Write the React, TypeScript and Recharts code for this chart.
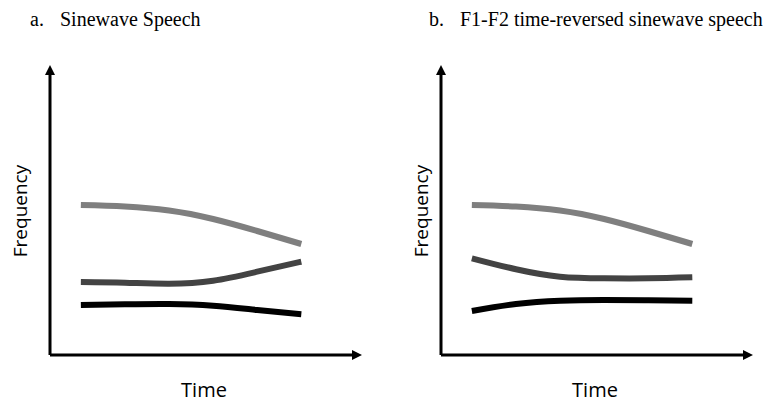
import React from "react";
import { LineChart, Line, XAxis, YAxis, Label } from "recharts";

// time samples (arbitrary units) and formant tracks (arbitrary frequency units)
const timePoints = [0, 4, 8, 12, 16, 20];
const f3Track = [15.0, 14.85, 14.45, 13.6, 12.4, 11.1];
const aF2Track = [7.3, 7.23, 7.13, 7.43, 8.33, 9.33];
const aF1Track = [5.0, 5.07, 5.1, 4.93, 4.5, 4.07];
const bF2Track = [9.67, 8.57, 7.83, 7.67, 7.67, 7.77];
const bF1Track = [4.4, 5.1, 5.43, 5.5, 5.47, 5.43];

const panelTitles = [
  { tag: "a.", text: "Sinewave Speech" },
  { tag: "b.", text: "F1-F2 time-reversed sinewave speech" },
];

const buildRows = (f1: number[], f2: number[]) =>
  timePoints.map((t, i) => ({ t, f1: f1[i], f2: f2[i], f3: f3Track[i] }));

const sans = "'Open Sans', 'Noto Sans', sans-serif";
const serif = "'Liberation Serif', 'Times New Roman', serif";

interface PanelProps {
  rows: { t: number; f1: number; f2: number; f3: number }[];
  width: number;
  freqX: number;
}

function Panel({ rows, width, freqX }: PanelProps) {
  const margin = { top: 75, right: width - 352, bottom: 50, left: 49 };
  return (
    <LineChart width={width} height={406} data={rows} margin={margin}>
      <XAxis
        dataKey="t"
        type="number"
        domain={[-2.8, 24.6]}
        allowDataOverflow
        height={1}
        tick={false}
        tickLine={false}
        axisLine={{ stroke: "#000", strokeWidth: 3, markerEnd: "url(#axisArrow)" }}
      >
        <Label
          content={() => (
            <text x={204} y={397} textAnchor="middle" fontFamily={sans} fontSize={20} fill="#000">
              Time
            </text>
          )}
        />
      </XAxis>
      <YAxis
        type="number"
        domain={[0, 28]}
        allowDataOverflow
        width={1}
        tick={false}
        tickLine={false}
        axisLine={{ stroke: "#000", strokeWidth: 3, markerStart: "url(#axisArrow)" }}
      >
        <Label
          content={() => (
            <text
              x={freqX}
              y={211}
              transform={`rotate(-90, ${freqX}, 211)`}
              textAnchor="middle"
              fontFamily={sans}
              fontSize={19}
              fill="#000"
            >
              Frequency
            </text>
          )}
        />
      </YAxis>
      <Line dataKey="f3" type="natural" stroke="#7f7f7f" strokeWidth={6} dot={false} activeDot={false} isAnimationActive={false} />
      <Line dataKey="f2" type="natural" stroke="#434343" strokeWidth={6} dot={false} activeDot={false} isAnimationActive={false} />
      <Line dataKey="f1" type="natural" stroke="#000" strokeWidth={6} dot={false} activeDot={false} isAnimationActive={false} />
    </LineChart>
  );
}

export default function App() {
  return (
    <div
      style={{
        position: "absolute",
        left: 0,
        top: 0,
        width: 768,
        height: 406,
        background: "#fff",
        overflow: "hidden",
      }}
    >
      <svg width={0} height={0} style={{ position: "absolute" }}>
        <defs>
          <marker
            id="axisArrow"
            viewBox="0 0 10 10"
            refX={0}
            refY={5}
            markerWidth={10}
            markerHeight={10}
            markerUnits="userSpaceOnUse"
            orient="auto-start-reverse"
          >
            <path d="M0,0 L10,5 L0,10 Z" fill="#000" />
          </marker>
        </defs>
      </svg>
      <svg width={768} height={40} style={{ position: "absolute", left: 0, top: 0 }}>
        <text x={30} y={26} fontFamily={serif} fontSize={20} fill="#000">{panelTitles[0].tag}</text>
        <text x={60} y={26} fontFamily={serif} fontSize={20} fill="#000">{panelTitles[0].text}</text>
        <text x={429} y={26} fontFamily={serif} fontSize={20} fill="#000">{panelTitles[1].tag}</text>
        <text x={460} y={26} fontFamily={serif} fontSize={20} fill="#000">{panelTitles[1].text}</text>
      </svg>
      <div style={{ position: "absolute", left: 0, top: 0 }}>
        <Panel rows={buildRows(aF1Track, aF2Track)} width={384} freqX={27} />
      </div>
      <div style={{ position: "absolute", left: 391, top: 0 }}>
        <Panel rows={buildRows(bF1Track, bF2Track)} width={377} freqX={37} />
      </div>
    </div>
  );
}
